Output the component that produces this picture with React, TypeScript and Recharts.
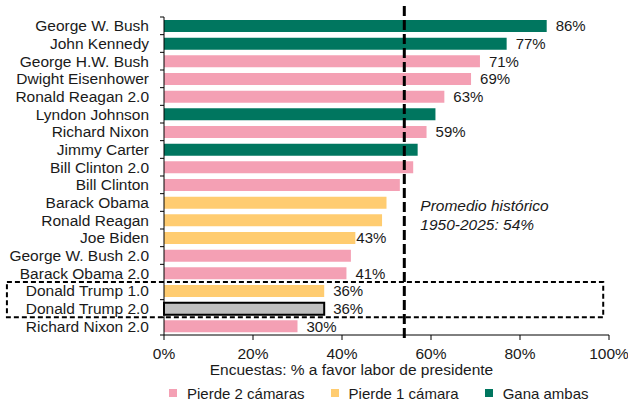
import {
  BarChart,
  Bar,
  XAxis,
  YAxis,
  Cell,
  LabelList,
  ReferenceLine,
  ReferenceArea,
  Legend,
} from 'recharts'

const presidentes = [
  'George W. Bush',
  'John Kennedy',
  'George H.W. Bush',
  'Dwight Eisenhower',
  'Ronald Reagan 2.0',
  'Lyndon Johnson',
  'Richard Nixon',
  'Jimmy Carter',
  'Bill Clinton 2.0',
  'Bill Clinton',
  'Barack Obama',
  'Ronald Reagan',
  'Joe Biden',
  'George W. Bush 2.0',
  'Barack Obama 2.0',
  'Donald Trump 1.0',
  'Donald Trump 2.0',
  'Richard Nixon 2.0',
]

const aprobacion = [86, 77, 71, 69, 63, 61, 59, 57, 56, 53, 50, 49, 43, 42, 41, 36, 36, 30]

// p2 = pierde 2 cámaras, p1 = pierde 1 cámara, gana = gana ambas, actual = Trump 2.0
const grupo = [
  'gana', 'gana', 'p2', 'p2', 'p2', 'gana', 'p2', 'gana', 'p2',
  'p2', 'p1', 'p1', 'p1', 'p2', 'p2', 'p1', 'actual', 'p2',
]

const conEtiqueta = [
  true, true, true, true, true, false, true, false, false,
  false, false, false, true, false, true, true, true, true,
]

const ticksX = [0, 20, 40, 60, 80, 100]
const PROMEDIO = 54

const COLORES: Record<string, string> = {
  p2: '#F4A0B4',
  p1: '#FFCC70',
  gana: '#00765F',
  actual: '#BFBFBF',
}

const leyenda = [
  { key: 'p2', nombre: 'Pierde 2 cámaras' },
  { key: 'p1', nombre: 'Pierde 1 cámara' },
  { key: 'gana', nombre: 'Gana ambas' },
]

const datos = presidentes.map((nombre, i) => ({
  nombre,
  valor: aprobacion[i],
  grupo: grupo[i],
  etiqueta: conEtiqueta[i],
}))

const ANCHO = 628
const ALTO = 405
const MARGEN = { top: 17, right: 19, bottom: 0, left: 0 }
const ALTO_EJE_X = 40
const ALTO_LEYENDA = 30
const BANDA = (ALTO - MARGEN.top - ALTO_EJE_X - ALTO_LEYENDA) / presidentes.length
const TEXTO = '#1a1a1a'

function TickPresidente(props: any) {
  const { x, y, payload, index } = props
  const ejeX = x + 15
  const arriba = y - BANDA / 2
  return (
    <g>
      <line x1={ejeX - 4} x2={ejeX} y1={arriba} y2={arriba} stroke="#000" />
      {index === presidentes.length - 1 && (
        <line x1={ejeX - 4} x2={ejeX} y1={y + BANDA / 2} y2={y + BANDA / 2} stroke="#000" />
      )}
      <text x={x} y={y} dy="0.35em" textAnchor="end" fontSize={15.5} fill={TEXTO}>
        {payload.value}
      </text>
    </g>
  )
}

function EtiquetaValor(props: any) {
  const { x, y, width, height, value, index } = props
  if (!datos[index]?.etiqueta) return null
  // la de Biden va pegada a la barra
  const sep = datos[index].nombre === 'Joe Biden' ? 1 : 9
  return (
    <text x={x + width + sep} y={y + height / 2} dy="0.35em" fontSize={15} fill={TEXTO}>
      {`${Math.round(value)}%`}
    </text>
  )
}

function LineaPromedio(props: any) {
  const { x1, y1, y2 } = props
  const arriba = Math.min(y1, y2)
  const abajo = Math.max(y1, y2)
  const tx = x1 + 16
  return (
    <g>
      <line
        x1={x1}
        x2={x1}
        y1={arriba - 11}
        y2={abajo + 3}
        stroke="#000"
        strokeWidth={3}
        strokeDasharray="10 4"
      />
      <text x={tx} y={arriba + 194} fontSize={15.5} fontStyle="italic" fill={TEXTO}>
        <tspan x={tx}>Promedio histórico</tspan>
        <tspan x={tx} dy={18.5}>{`1950-2025: ${PROMEDIO}%`}</tspan>
      </text>
    </g>
  )
}

function Leyenda() {
  return (
    <div
      style={{
        display: 'flex',
        alignItems: 'center',
        gap: 26,
        paddingLeft: 169,
        paddingTop: 6,
        height: ALTO_LEYENDA,
        boxSizing: 'border-box',
        fontSize: 15,
        color: TEXTO,
      }}
    >
      {leyenda.map((l) => (
        <div key={l.key} style={{ display: 'flex', alignItems: 'center' }}>
          <span
            style={{
              display: 'inline-block',
              width: 8,
              height: 8,
              background: COLORES[l.key],
              marginRight: 10,
            }}
          />
          {l.nombre}
        </div>
      ))}
    </div>
  )
}

export default function App() {
  return (
    <div
      style={{
        position: 'absolute',
        left: 0,
        top: 0,
        background: '#fff',
        fontFamily: '"Liberation Sans", Arial, sans-serif',
      }}
    >
      <BarChart
        width={ANCHO}
        height={ALTO}
        data={datos}
        layout="vertical"
        margin={MARGEN}
        barCategoryGap="17%"
      >
        <XAxis
          type="number"
          domain={[0, 100]}
          ticks={ticksX}
          tickFormatter={(v) => `${v}%`}
          tickSize={5}
          tickMargin={8}
          height={ALTO_EJE_X}
          stroke="#000"
          tick={{ fill: TEXTO, fontSize: 15.5 }}
          label={{
            value: 'Encuestas: % a favor labor de presidente',
            position: 'insideBottom',
            offset: 0,
            dx: -35,
            fill: TEXTO,
            fontSize: 15.5,
          }}
        />
        <YAxis
          type="category"
          dataKey="nombre"
          width={164}
          interval={0}
          tickLine={false}
          tickSize={4}
          tickMargin={11}
          stroke="#000"
          tick={<TickPresidente />}
        />
        <ReferenceArea
          x1={-35.3}
          x2={98.7}
          y1="Donald Trump 1.0"
          y2="Donald Trump 2.0"
          ifOverflow="visible"
          fill="none"
          stroke="#000"
          strokeWidth={2}
          strokeDasharray="5 3"
        />
        <Bar dataKey="valor" isAnimationActive={false}>
          {datos.map((d, i) => (
            <Cell
              key={i}
              fill={COLORES[d.grupo]}
              stroke={d.grupo === 'actual' ? '#000' : 'none'}
              strokeWidth={d.grupo === 'actual' ? 2 : 0}
            />
          ))}
          <LabelList dataKey="valor" content={<EtiquetaValor />} />
        </Bar>
        <ReferenceLine x={PROMEDIO} ifOverflow="visible" shape={<LineaPromedio />} />
        <Legend
          verticalAlign="bottom"
          height={ALTO_LEYENDA}
          wrapperStyle={{ left: 0, bottom: 0, width: ANCHO }}
          content={<Leyenda />}
        />
      </BarChart>
    </div>
  )
}
